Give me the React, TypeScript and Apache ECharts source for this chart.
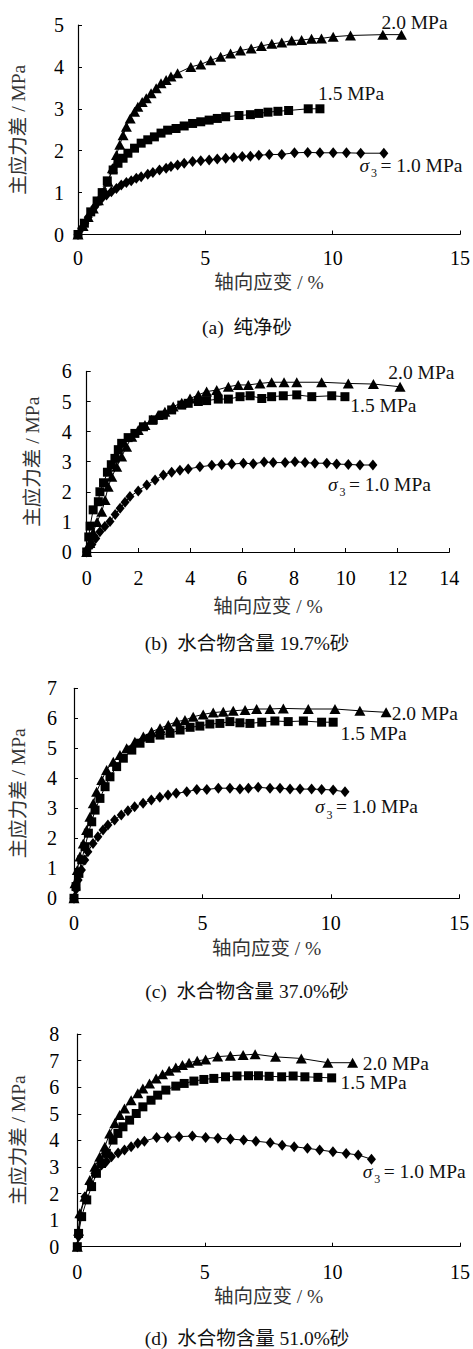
import React, { useEffect, useRef } from "react";
import * as echarts from "echarts";

// ---------- data (axial strain %, principal stress difference MPa) ----------
const A_20: number[][] = [[0,0],[0.2,0.2],[0.4,0.42],[0.6,0.62],[0.8,0.82],[1.0,1.02],[1.18,1.26],[1.35,1.58],[1.51,1.90],[1.64,2.14],[1.77,2.37],[1.90,2.57],[2.05,2.77],[2.22,2.93],[2.35,3.05],[2.52,3.16],[2.68,3.25],[2.87,3.37],[3.07,3.49],[3.26,3.61],[3.46,3.69],[3.65,3.77],[3.91,3.85],[4.43,4.0],[4.82,4.06],[5.21,4.16],[5.60,4.24],[5.99,4.32],[6.38,4.39],[6.80,4.44],[7.20,4.50],[7.61,4.55],[8.0,4.58],[8.39,4.63],[8.78,4.64],[9.17,4.67],[9.56,4.68],[10.02,4.72],[10.70,4.75],[11.97,4.77],[12.70,4.77]];
const A_15: number[][] = [[0,0],[0.25,0.27],[0.5,0.54],[0.75,0.8],[0.95,1.0],[1.15,1.28],[1.38,1.54],[1.57,1.70],[1.77,1.82],[1.96,1.94],[2.22,2.06],[2.48,2.18],[2.74,2.26],[3.0,2.33],[3.26,2.42],[3.52,2.49],[3.85,2.53],[4.17,2.59],[4.50,2.65],[4.82,2.69],[5.15,2.73],[5.47,2.77],[5.80,2.81],[6.32,2.84],[6.77,2.86],[7.10,2.89],[7.46,2.92],[7.85,2.94],[8.27,2.96],[9.04,3.0],[9.50,3.0]];
const A_10: number[][] = [[0,0],[0.14,0.15],[0.27,0.27],[0.40,0.41],[0.53,0.54],[0.66,0.66],[0.79,0.78],[0.95,0.88],[1.12,0.94],[1.31,1.02],[1.51,1.10],[1.70,1.18],[1.90,1.24],[2.09,1.28],[2.29,1.34],[2.48,1.38],[2.74,1.44],[2.94,1.48],[3.20,1.54],[3.46,1.58],[3.65,1.62],[3.91,1.66],[4.17,1.70],[4.50,1.74],[4.82,1.76],[5.15,1.78],[5.47,1.80],[5.80,1.82],[6.12,1.84],[6.45,1.86],[6.77,1.87],[7.10,1.89],[7.51,1.91],[8.0,1.91],[8.50,1.95],[9.02,1.96],[9.50,1.95],[10.02,1.95],[10.54,1.95],[11.10,1.94],[12.01,1.94]];

const B_20: number[][] = [[0,0],[0.12,0.3],[0.25,0.65],[0.4,1.0],[0.58,1.34],[0.71,1.73],[0.83,2.17],[0.97,2.50],[1.16,2.83],[1.35,3.17],[1.54,3.50],[1.74,3.83],[1.99,4.05],[2.25,4.22],[2.51,4.39],[2.76,4.55],[3.02,4.66],[3.34,4.83],[3.67,4.96],[3.99,5.10],[4.31,5.22],[4.63,5.33],[5.02,5.38],[5.47,5.49],[5.85,5.55],[6.24,5.55],[6.69,5.60],[7.14,5.64],[7.62,5.64],[8.11,5.64],[9.07,5.64],[10.10,5.60],[11.07,5.58],[12.10,5.49]];
const B_15: number[][] = [[0,0],[0.08,0.5],[0.13,0.86],[0.25,1.40],[0.45,1.67],[0.51,2.0],[0.65,2.3],[0.8,2.65],[0.95,2.9],[1.09,3.11],[1.22,3.4],[1.35,3.61],[1.6,3.8],[1.86,3.94],[2.19,4.16],[2.57,4.39],[2.96,4.55],[3.28,4.72],[3.67,4.88],[3.92,4.94],[4.31,5.0],[4.63,5.03],[5.08,5.08],[5.47,5.08],[5.92,5.16],[6.31,5.19],[6.76,5.10],[7.14,5.16],[7.59,5.19],[8.11,5.22],[8.69,5.16],[9.46,5.19],[9.97,5.16]];
const B_10: number[][] = [[0,0],[0.2,0.25],[0.35,0.45],[0.51,0.67],[0.7,0.85],[0.90,1.01],[1.1,1.25],[1.29,1.45],[1.48,1.65],[1.67,1.84],[1.99,2.03],[2.32,2.23],[2.64,2.39],[2.96,2.56],[3.28,2.65],[3.60,2.72],[3.92,2.76],[4.37,2.83],[4.83,2.88],[5.21,2.91],[5.60,2.92],[6.05,2.95],[6.43,2.93],[6.85,2.99],[7.20,2.97],[7.66,2.97],[8.04,3.0],[8.43,2.97],[8.81,2.95],[9.27,2.95],[9.65,2.92],[10.10,2.91],[10.55,2.89],[11.05,2.89]];

const C_20: number[][] = [[0,0],[0.04,0.5],[0.13,0.94],[0.23,1.39],[0.36,1.83],[0.49,2.28],[0.62,2.72],[0.75,3.17],[0.88,3.55],[1.08,3.94],[1.27,4.28],[1.53,4.55],[1.79,4.78],[2.05,5.0],[2.37,5.22],[2.70,5.39],[3.02,5.55],[3.35,5.67],[3.67,5.78],[4.0,5.89],[4.32,5.94],[4.64,6.05],[5.03,6.13],[5.42,6.19],[5.81,6.22],[6.20,6.25],[6.66,6.28],[7.11,6.31],[7.63,6.31],[8.15,6.33],[9.12,6.31],[10.16,6.31],[11.13,6.25],[12.15,6.20]];
const C_15: number[][] = [[0,0],[0.08,0.39],[0.19,0.83],[0.30,1.28],[0.43,1.72],[0.56,2.17],[0.69,2.55],[0.82,2.94],[1.01,3.33],[1.21,3.72],[1.40,4.05],[1.66,4.39],[1.92,4.67],[2.25,4.94],[2.57,5.17],[2.96,5.33],[3.35,5.44],[3.74,5.50],[4.13,5.61],[4.52,5.70],[4.90,5.74],[5.29,5.81],[5.68,5.83],[6.07,5.89],[6.46,5.85],[6.85,5.83],[7.31,5.87],[7.82,5.91],[8.34,5.89],[8.93,5.91],[9.64,5.87],[10.09,5.87]];
const C_10: number[][] = [[0,0],[0.08,0.3],[0.16,0.61],[0.29,0.94],[0.42,1.28],[0.54,1.55],[0.74,1.83],[0.93,2.05],[1.13,2.28],[1.32,2.44],[1.58,2.61],[1.84,2.78],[2.10,2.92],[2.36,3.05],[2.69,3.17],[3.01,3.28],[3.34,3.37],[3.66,3.44],[3.98,3.50],[4.39,3.55],[4.78,3.63],[5.17,3.63],[5.62,3.67],[6.07,3.67],[6.46,3.64],[6.79,3.67],[7.17,3.70],[7.63,3.67],[8.02,3.67],[8.41,3.64],[8.80,3.64],[9.25,3.64],[9.64,3.63],[10.09,3.61],[10.55,3.55]];

const D_20: number[][] = [[0,0],[0.05,0.6],[0.1,1.26],[0.3,1.88],[0.49,2.51],[0.69,3.01],[0.88,3.38],[1.08,3.76],[1.27,4.26],[1.47,4.64],[1.66,4.95],[1.85,5.20],[2.11,5.51],[2.37,5.77],[2.57,5.95],[2.83,6.14],[3.09,6.33],[3.34,6.49],[3.60,6.62],[3.86,6.74],[4.12,6.83],[4.38,6.92],[4.70,6.99],[5.03,7.04],[5.50,7.15],[6.0,7.18],[6.50,7.21],[6.97,7.24],[7.77,7.14],[8.78,7.08],[9.82,6.92],[10.79,6.92]];
const D_15: number[][] = [[0,0],[0.05,0.5],[0.17,1.13],[0.37,1.76],[0.56,2.26],[0.75,2.76],[0.95,3.13],[1.14,3.51],[1.40,4.01],[1.59,4.26],[1.79,4.51],[2.05,4.76],[2.31,5.01],[2.57,5.26],[2.89,5.51],[3.15,5.70],[3.47,5.89],[3.86,6.04],[4.19,6.14],[4.57,6.23],[4.96,6.29],[5.35,6.33],[5.81,6.39],[6.26,6.42],[6.71,6.43],[7.10,6.43],[7.52,6.41],[8.01,6.39],[8.46,6.42],[8.92,6.39],[9.43,6.37],[9.97,6.35]];
const D_10: number[][] = [[0,0],[0.05,0.38],[0.1,1.13],[0.3,1.88],[0.49,2.38],[0.69,2.76],[0.95,3.07],[1.14,3.2],[1.34,3.38],[1.60,3.52],[1.85,3.64],[2.11,3.76],[2.37,3.89],[2.63,3.97],[3.11,4.11],[3.54,4.11],[3.99,4.14],[4.51,4.16],[5.03,4.11],[5.51,4.08],[6.0,4.05],[6.52,4.01],[7.0,3.97],[7.56,3.91],[8.03,3.82],[8.50,3.76],[9.02,3.70],[9.50,3.64],[10.02,3.57],[10.54,3.51],[11.01,3.45],[11.53,3.29]];

// axis ranges [max, interval]
const X_RANGES: number[][] = [[15, 5], [14, 2], [15, 5], [15, 5]];
const Y_MAX: number[] = [5, 6, 7, 8];

const CAPTIONS: string[] = ["(a)  纯净砂", "(b)  水合物含量 19.7%砂", "(c)  水合物含量 37.0%砂", "(d)  水合物含量 51.0%砂"];
const X_NAME = "轴向应变 / %";
const Y_NAME = "主应力差 / MPa";
const CURVE_LABELS: string[] = ["2.0 MPa", "1.5 MPa", "= 1.0 MPa"];

const PANEL_DATA: number[][][][] = [
  [A_20, A_15, A_10],
  [B_20, B_15, B_10],
  [C_20, C_15, C_10],
  [D_20, D_15, D_10],
];

// ---------- layout (pixels) ----------
const GRIDS = [
  { left: 78, top: 25, width: 384.3, height: 209.5, xGap: 38.5, yGap: 50, xm: 13.5, ym: 14, cap: 327 },
  { left: 86.7, top: 371.4, width: 362.6, height: 180.6, xGap: 45, yGap: 44, xm: 16, ym: 15, cap: 643 },
  { left: 74, top: 688.3, width: 385.3, height: 210, xGap: 40, yGap: 46, xm: 14.5, ym: 17, cap: 991.5 },
  { left: 77.3, top: 1034, width: 386, height: 212.7, xGap: 40.5, yGap: 49.5, xm: 15, ym: 18, cap: 1338 },
];
// label anchor positions [left x, center y] for 2.0, 1.5, sigma labels
const LABEL_POS = [
  [[381.5, 22], [318, 93.3], [359.5, 165]],
  [[388.3, 372.5], [350.3, 405.5], [328, 484]],
  [[391.7, 713.3], [340.5, 733.3], [315, 806.7]],
  [[362.7, 1063.3], [340.5, 1082.5], [362.7, 1171]],
];

const SERIF = "'Liberation Serif', 'Times New Roman', 'Noto Sans CJK SC', serif";
const FS = 19.5;
const SYMBOLS = ["triangle", "rect", "diamond"];
const SYMBOL_SIZES: any[] = [[11, 10], 9, [9, 11]];

function txt(x: number, y: number, text: string, opts: any = {}) {
  return {
    type: "text",
    x,
    y,
    silent: true,
    style: {
      text,
      fill: opts.fill || "#111",
      font: `${opts.italic ? "italic " : ""}${opts.size || FS}px ${SERIF}`,
      fontSize: opts.size || FS,
      fontFamily: SERIF,
      fontStyle: opts.italic ? "italic" : "normal",
      align: opts.align || "left",
      textAlign: opts.align || "left",
      verticalAlign: "middle",
      textVerticalAlign: "middle",
    },
  };
}

export default function App() {
  const ref = useRef<HTMLDivElement>(null);

  useEffect(() => {
    if (!ref.current) return;
    const chart = echarts.init(ref.current, undefined, { renderer: "svg" });

    const grid = GRIDS.map((g) => ({ left: g.left, top: g.top, width: g.width, height: g.height, containLabel: false }));
    const axisLine = { show: true, onZero: false, lineStyle: { color: "#000", width: 1.2 } };
    const axisTick = { show: true, inside: true, length: 4, lineStyle: { color: "#000", width: 1 } };
    const labelStyle = { color: "#000", fontSize: 20, fontFamily: SERIF };
    const nameStyle = { color: "#333", fontSize: FS, fontFamily: SERIF };

    const xAxis = GRIDS.map((g, i) => ({
      type: "value",
      gridIndex: i,
      min: 0,
      max: X_RANGES[i][0],
      interval: X_RANGES[i][1],
      axisLine,
      axisTick,
      splitLine: { show: false },
      axisLabel: { ...labelStyle, margin: g.xm },
      name: X_NAME,
      nameLocation: "middle",
      nameGap: g.xGap,
      nameTextStyle: nameStyle,
    }));
    const yAxis = GRIDS.map((g, i) => ({
      type: "value",
      gridIndex: i,
      min: 0,
      max: Y_MAX[i],
      interval: 1,
      axisLine,
      axisTick,
      splitLine: { show: false },
      axisLabel: { ...labelStyle, margin: g.ym },
      name: Y_NAME,
      nameLocation: "middle",
      nameGap: g.yGap,
      nameTextStyle: nameStyle,
    }));

    const series: any[] = [];
    PANEL_DATA.forEach((panel, i) => {
      panel.forEach((data, k) => {
        series.push({
          type: "line",
          name: `${i}-${k}`,
          xAxisIndex: i,
          yAxisIndex: i,
          data,
          symbol: SYMBOLS[k],
          symbolSize: SYMBOL_SIZES[k],
          showSymbol: true,
          lineStyle: { color: "#000", width: 1 },
          itemStyle: { color: "#000" },
          silent: true,
          z: 2 + k,
        });
      });
    });

    const graphic: any[] = [];
    LABEL_POS.forEach((pos, i) => {
      graphic.push(txt(pos[0][0], pos[0][1], CURVE_LABELS[0]));
      graphic.push(txt(pos[1][0], pos[1][1], CURVE_LABELS[1]));
      const [sx, sy] = pos[2];
      graphic.push(txt(sx, sy, "σ", { italic: true }));
      graphic.push(txt(sx + 11.5, sy + 8, "3", { size: 12 }));
      graphic.push(txt(sx + 21, sy, CURVE_LABELS[2]));
      graphic.push(txt(247, GRIDS[i].cap, CAPTIONS[i], { align: "center" }));
    });

    chart.setOption({
      animation: false,
      backgroundColor: "#fff",
      grid,
      xAxis,
      yAxis,
      series,
      graphic,
    });

    return () => chart.dispose();
  }, []);

  return <div ref={ref} style={{ position: "absolute", left: 0, top: 0, width: 473, height: 1349 }} />;
}
